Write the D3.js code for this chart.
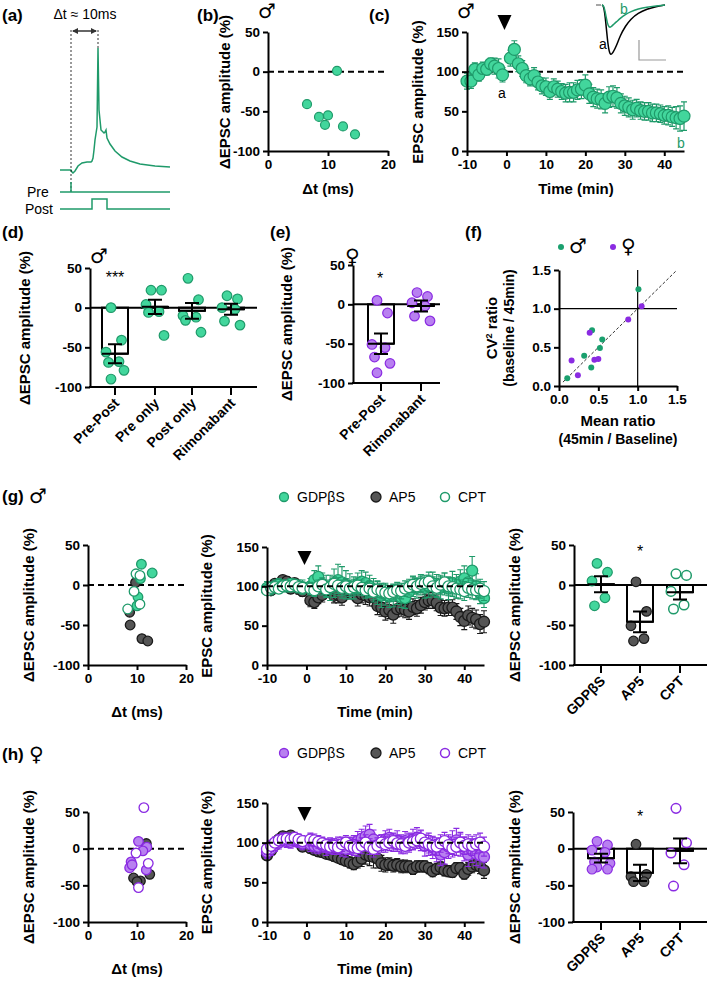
<!DOCTYPE html>
<html><head><meta charset="utf-8">
<script src="https://cdn.jsdelivr.net/npm/d3@7"></script>
<style>body{margin:0;background:#fff}svg{display:block}text{font-family:"Liberation Sans",Arial,sans-serif}</style>
</head><body><svg id="c" width="709" height="983"></svg>
<script>
// ---------- DATA ----------
const aTraceT=[0,11,12,13,15,18,22,27,31,32,33,34,35,37,38,39,41,44,45,46,47,50,55,62,70,80,95,110];
const aTraceV=[0,0,-2,-3,-1,4,7,8,8,9,12,20,30,43,122,60,40,37,38,40,32,26,19,13,9,6,4,3];
const bDt=[6.5,8.5,10,9.5,12.5,14.5,11.5];
const bVal=[-41,-57,-55,-67,-69,-79,1];
const times=[-10,-9,-8,-7,-6,-5,-4,-3,-2,-1,1,2,3,4,5,6,7,8,9,10,11,12,13,14,15,16,17,18,19,20,21,22,23,24,25,26,27,28,29,30,31,32,33,34,35,36,37,38,39,40,41,42,43,44,45];
const cMean=[88,88,103,96,104,103,110,107,104,96,117,128,110,104,95,91,95,87,82,81,75,81,78,75,73,74,74,77,78,83,72,68,66,65,60,68,69,67,60,57,55,52,54,51,50,50,48,48,47,45,45,43,42,41,44];
const cErr=[10,9,8,8,8,7,7,10,12,9,10,11,10,10,9,9,10,10,10,11,10,10,10,10,11,12,12,12,12,13,12,12,12,12,12,13,13,13,12,12,12,12,11,11,11,11,11,11,11,11,12,12,14,16,18];
const insetT=[0,1,2,3,4,5,6,8,10,13,16,20,25,30,35];
const insetA=[0,2,30,70,95,100,96,82,62,42,28,16,8,3,0];
const insetB=[0,1,18,38,45,44,40,34,27,19,13,8,4,2,0];
const dCats=["Pre-Post","Pre only","Post only","Rimonabant"];
const dMean=[-58,1,-4,-2];
const dSem=[12,9,10,7];
const dPts=[[0,-41,-56,-68,-69,-79,-90],[22,22,4,-5,-6,-35],[37,10,-10,-12,-16,-31],[15,11,0,-2,-17,-22]];
const eCats=["Pre-Post","Rimonabant"];
const eMean=[-50,-2];
const eSem=[13,7];
const ePts=[[5,-11,-51,-55,-67,-75,-87],[15,10,2,-2,-15,-21]];
const fMaleX=[0.105,0.32,0.41,0.42,0.52,0.55,1.01];
const fMaleY=[0.10,0.39,0.24,0.72,0.49,0.60,1.25];
const fFemX=[0.16,0.24,0.39,0.45,0.50,0.88,1.05];
const fFemY=[0.33,0.14,0.69,0.34,0.35,0.86,1.03];
const groups=["GDPβS","AP5","CPT"];
const gDtGDP=[10.9,13.1,10.2,10.0,10.7],gValGDP=[26,15,-15,-26,8];
const gDtAP5=[8.5,8.6,11.0,12.2,9.7],gValAP5=[-34,-50,-67,-70,3];
const gDtCPT=[9.8,10.6,9.4,10.6,8.1],gValCPT=[14,12,-8,-24,-30];
const gGrey=[96,95,103,100,108,106,97,104,97,94,82,80,86,89,95,96,88,89,86,96,94,93,85,90,88,86,86,75,73,68,70,64,71,72,70,68,74,72,76,80,82,82,79,73,72,73,73,68,61,56,63,60,58,52,55];
const gGreyErr=[6,6,5,5,5,6,6,6,7,7,8,8,8,9,9,9,9,10,10,10,10,10,10,11,11,11,11,11,11,11,11,11,10,10,10,10,10,10,10,10,10,10,10,10,10,10,10,10,11,11,12,12,12,12,14];
const gGreen=[98,97,100,102,101,100,103,101,100,99,100,108,112,103,100,98,104,108,105,102,100,98,103,106,104,100,95,92,88,90,87,88,90,86,85,93,100,98,102,98,100,104,101,98,103,97,104,100,106,110,105,120,100,92,85];
const gGreenErr=[8,8,8,8,7,7,7,8,8,9,10,12,14,14,14,16,18,20,20,18,16,14,14,14,14,14,15,15,15,14,14,14,13,13,13,13,13,13,13,13,14,14,14,14,14,14,15,15,15,16,16,18,16,14,12];
const gOpen=[95,98,99,97,100,101,100,102,99,98,97,95,100,102,96,99,103,101,98,100,97,99,101,98,95,97,93,96,94,92,91,93,95,94,97,99,102,100,103,104,106,100,98,102,105,100,99,97,96,94,98,96,95,97,94];
const gOpenErr=[6,6,6,6,6,6,6,6,7,7,8,8,8,9,9,9,9,10,10,10,10,10,10,10,10,10,10,10,10,10,10,10,10,10,10,10,10,10,10,10,12,12,12,12,12,12,12,12,12,12,12,12,12,12,12];
const hDtGDP=[10.3,8.8,8.5,12.0,11.2,11.9,9.0],hValGDP=[10,-18,-26,2,-3,-29,-22];
const hDtAP5=[11.9,9.3,10.7,10.0,12.6],hValAP5=[7,-40,-44,-45,-35];
const hDtCPT=[9.8,10.3,12.3,11.4],hValCPT=[-6,-53,-20,56];
const hGrey=[84,90,97,104,108,106,109,105,103,95,93,91,89,88,86,85,83,81,79,77,75,73,76,80,85,83,82,80,74,72,73,71,72,70,70,70,67,70,70,70,68,64,67,69,65,64,63,68,68,61,67,70,72,70,65];
const hGreyErr=[5,5,5,5,5,5,5,5,5,5,6,6,6,6,6,6,6,6,6,6,7,7,8,10,12,12,14,12,10,9,8,8,8,8,8,7,7,7,7,7,7,7,7,7,7,7,7,7,7,7,8,8,8,9,10];
const hPurp=[88,92,97,100,104,102,101,103,102,99,98,96,95,97,94,96,95,97,93,92,96,98,102,105,108,110,104,97,99,104,106,100,103,98,102,100,104,106,103,96,98,94,90,85,88,95,100,103,98,92,85,90,86,84,82];
const hPurpErr=[8,8,8,8,8,8,8,8,8,8,9,9,9,9,10,10,10,10,10,10,11,11,12,12,13,13,12,12,11,11,11,11,12,12,12,12,13,13,13,13,14,14,14,14,15,15,15,15,15,15,15,15,15,15,14];
const hOpen=[92,96,100,103,104,105,104,106,104,102,104,103,101,99,97,95,96,94,98,100,96,94,93,96,100,95,92,96,100,98,100,102,99,98,96,100,101,103,105,100,98,96,95,99,102,97,93,95,100,96,98,96,98,100,95];
const hOpenErr=[7,7,7,7,7,7,7,7,7,7,8,8,8,8,8,9,9,9,9,9,10,10,10,10,10,10,10,10,10,10,10,10,10,10,10,10,10,10,10,10,11,11,11,11,11,11,11,11,11,11,12,12,12,12,12];
const gBarMean=[1,-46,-9],gBarSem=[10,13,9];
const gBarPts=[[27,16,5,-16,-26],[4,-33,-51,-67,-70],[14,12,-8,-25,-30]];
const hBarMean=[-13,-33,-3],hBarSem=[6,11,17];
const hBarPts=[[10,5,-2,-5,-18,-20,-25,-28,-28],[6,-35,-38,-45,-45],[55,8,-6,-22,-51]];
const yTicksD=[-100,-50,0,50], yTicksE=[0,50,100,150];

// ---------- STYLE ----------
const GF="#42d69c",GS="#1f9a6a",PF="#b880f0",PS="#8a2be2",KF="#555",KS="#1a1a1a";
const TICK=13.5, TITLE=15, SYM="DejaVu Sans, sans-serif";
const intFmt=d=>String(d), decFmt=d=>d.toFixed(1);
const svg=d3.select("#c");
svg.append("rect").attr("width",709).attr("height",983).attr("fill","#fff");
function txt(x,y,s,o={}){const t=svg.append("text").attr("x",x).attr("y",y).text(s)
 .attr("font-size",o.size||TICK).attr("font-weight",o.bold===false?"normal":"bold").attr("fill",o.fill||"#000")
 .attr("text-anchor",o.anchor||"start");if(o.font)t.style("font-family",o.font);if(o.rot!=null)t.attr("transform",`rotate(${o.rot},${x},${y})`);return t;}
function sym(x,y,s){return txt(x,y,s,{size:20,bold:false,font:SYM});}
function styleAxis(g){g.selectAll("path,line").attr("stroke","#000").attr("stroke-width",2);
 g.selectAll("text").attr("font-size",TICK).attr("font-weight","bold").attr("fill","#000").attr("font-family","Liberation Sans, Arial");}
function yAx(y,x,ticks,fmt){const g=svg.append("g").attr("transform",`translate(${x},0)`)
 .call(d3.axisLeft(y).tickValues(ticks).tickSize(5).tickSizeOuter(0).tickFormat(fmt||intFmt));styleAxis(g);return g;}
function xAx(x,y,ticks,fmt){const g=svg.append("g").attr("transform",`translate(0,${y})`)
 .call(d3.axisBottom(x).tickValues(ticks).tickSize(5).tickSizeOuter(0).tickFormat(fmt||intFmt));styleAxis(g);return g;}
function hline(x1,x2,y,dash,w){svg.append("line").attr("x1",x1).attr("x2",x2).attr("y1",y).attr("y2",y)
 .attr("stroke","#000").attr("stroke-width",w||2).attr("stroke-dasharray",dash||null);}
function dot(x,y,r,fill,stroke,sw){svg.append("circle").attr("cx",x).attr("cy",y).attr("r",r).attr("fill",fill).attr("stroke",stroke).attr("stroke-width",sw||1.2);}
function ylab(x,y,s){txt(x,y,s,{size:TITLE,anchor:"middle",rot:-90});}

// ---------- (a) ----------
const ax=d3.scaleLinear().domain([0,110]).range([60,170]), ay=d3.scaleLinear().domain([0,122]).range([170,48]);
svg.append("path").attr("d",d3.line().x((d,i)=>ax(d)).y((d,i)=>ay(aTraceV[i]))(aTraceT)).attr("fill","none").attr("stroke",GS).attr("stroke-width",1.5);
[[71,30,192],[98,30,48]].forEach(d=>svg.append("line").attr("x1",d[0]).attr("x2",d[0]).attr("y1",d[1]).attr("y2",d[2]).attr("stroke","#000").attr("stroke-width",0.8).attr("stroke-dasharray","2,2"));
svg.append("line").attr("x1",73).attr("x2",96).attr("y1",31).attr("y2",31).attr("stroke","#333").attr("stroke-width",1.5);
svg.append("path").attr("d","M72,31 l6,-3 v6z M97,31 l-6,-3 v6z").attr("fill","#333");
txt(85,19,"Δt ≈ 10ms",{size:14,bold:false,anchor:"middle"});
svg.append("path").attr("d","M60,192 H170 M71,192 V182 M60,209 H92 V199 H107 V209 H170").attr("fill","none").attr("stroke",GS).attr("stroke-width",1.5);
txt(27,197,"Pre",{size:14,bold:false});txt(25,214,"Post",{size:14,bold:false});
txt(2,21,"(a)",{size:17});

// ---------- (b) ----------
{const x=d3.scaleLinear().domain([0,20]).range([268,388]),y=d3.scaleLinear().domain([-100,50]).range([151,32]);
hline(268,388,y(0),"6,4");
bDt.forEach((d,i)=>dot(x(d),y(bVal[i]),4.5,GF,GS));
yAx(y,268,yTicksD);xAx(x,151,[0,10,20]);
ylab(230,92,"ΔEPSC amplitude (%)");txt(328,194,"Δt (ms)",{size:TITLE,anchor:"middle"});
txt(197,21,"(b)",{size:17});sym(258,18,"♂");}

// ---------- (c) ----------
{const x=d3.scaleLinear().domain([-10,45]).range([467,684]),y=d3.scaleLinear().domain([0,150]).range([151,32]);
hline(467,685,y(100),"6,4");
times.forEach((t,i)=>{svg.append("path").attr("d",`M${x(t)},${y(cMean[i]-cErr[i])}V${y(cMean[i]+cErr[i])}M${x(t)-3},${y(cMean[i]+cErr[i])}h6M${x(t)-3},${y(cMean[i]-cErr[i])}h6`).attr("stroke",GS).attr("stroke-width",1.2).attr("fill","none");});
times.forEach((t,i)=>dot(x(t),y(cMean[i]),6,GF,GS));
yAx(y,467,yTicksE);xAx(x,151,[-10,0,10,20,30,40]);
svg.append("path").attr("d",`M${x(-0.5)-7},15h14l-7,15z`).attr("fill","#000");
ylab(423,92,"EPSC amplitude (%)");txt(576,194,"Time (min)",{size:TITLE,anchor:"middle"});
txt(498,98,"a",{size:14,bold:false});txt(677,148,"b",{size:14,bold:false,fill:GS});
txt(369,21,"(c)",{size:17});sym(457,18,"♂");
const ix=d3.scaleLinear().domain([0,35]).range([602,665]),iy=d3.scaleLinear().domain([0,100]).range([5,55]);
svg.append("line").attr("x1",596).attr("x2",601).attr("y1",5).attr("y2",5).attr("stroke","#888").attr("stroke-width",1.5);
svg.append("path").attr("d",d3.line().x(d=>ix(d)).y((d,i)=>iy(insetA[i])).curve(d3.curveBasis)(insetT)).attr("fill","none").attr("stroke","#000").attr("stroke-width",1.5);
svg.append("path").attr("d",d3.line().x(d=>ix(d)).y((d,i)=>iy(insetB[i])).curve(d3.curveBasis)(insetT)).attr("fill","none").attr("stroke",GS).attr("stroke-width",1.5);
txt(599,49,"a",{size:14,bold:false});txt(620,14,"b",{size:14,bold:false,fill:GS});
svg.append("path").attr("d","M639,40V60H666").attr("fill","none").attr("stroke","#999").attr("stroke-width",1.2);}

// ---------- bar helper ----------
function barPanel(cats,xs,y,axisX,axisEnd,yBase,means,sems,pts,style,barW){
 const x=d3.scaleOrdinal().domain(cats).range(xs);
 cats.forEach((c,i)=>{const cx=x(c);
  svg.append("rect").attr("x",cx-barW/2).attr("width",barW).attr("y",Math.min(y(0),y(means[i]))).attr("height",Math.abs(y(means[i])-y(0)))
   .attr("fill","#fff").attr("stroke","#000").attr("stroke-width",2);});
 hline(axisX,axisEnd,y(0));
 cats.forEach((c,i)=>{const cx=x(c),st=style[i];
  pts[i].forEach((v,j)=>{const off=(j%2===0?-1:1)*(4+(j%3)*2.5);dot(cx+off,y(v),4.8,st[0],st[1],st[2]);});
  const hi=y(means[i]+sems[i]),lo=y(means[i]-sems[i]);
  svg.append("path").attr("d",`M${cx},${lo}V${hi}M${cx-7},${hi}h14M${cx-7},${lo}h14M${cx-barW/2},${y(means[i])}h${barW}`).attr("stroke","#000").attr("stroke-width",2).attr("fill","none");});
 yAx(y,axisX,yTicksD);
 hline(axisX-1,axisEnd,yBase);
 cats.forEach(c=>{svg.append("line").attr("x1",x(c)).attr("x2",x(c)).attr("y1",yBase).attr("y2",yBase+8).attr("stroke","#000").attr("stroke-width",2);
  txt(x(c)+5,yBase+17,c,{size:14,anchor:"end",rot:-45});});
 return x;}

// ---------- (d) ----------
{const y=d3.scaleLinear().domain([-100,50]).range([387,268]);
const G=[GF,GS,1.2];
barPanel(dCats,[115,155,192,231],y,90,257,387,dMean,dSem,dPts,[G,G,G,G],26);
ylab(30,328,"ΔEPSC amplitude (%)");txt(2,238,"(d)",{size:17});sym(90,263,"♂");txt(115,283,"***",{size:16,bold:false,anchor:"middle"});}

// ---------- (e) ----------
{const y=d3.scaleLinear().domain([-100,50]).range([383,265]);
const P=[PF,PS,1.2];
barPanel(eCats,[381,421],y,353,440,383,eMean,eSem,ePts,[P,P],26);
ylab(292,324,"ΔEPSC amplitude (%)");txt(270,238,"(e)",{size:17});sym(345,263,"♀");txt(380,284,"*",{size:16,bold:false,anchor:"middle"});}

// ---------- (f) ----------
{const x=d3.scaleLinear().domain([0,1.5]).range([559,677]),y=d3.scaleLinear().domain([0,1.5]).range([386,270]);
svg.append("line").attr("x1",x(0.05)).attr("y1",y(0.05)).attr("x2",x(1.5)).attr("y2",y(1.5)).attr("stroke","#333").attr("stroke-width",1).attr("stroke-dasharray","3,2");
svg.append("line").attr("x1",x(1)).attr("x2",x(1)).attr("y1",y(0)).attr("y2",y(1.5)).attr("stroke","#000").attr("stroke-width",1.2);
svg.append("line").attr("x1",x(0)).attr("x2",x(1.5)).attr("y1",y(1)).attr("y2",y(1)).attr("stroke","#000").attr("stroke-width",1.2);
fMaleX.forEach((d,i)=>dot(x(d),y(fMaleY[i]),3,"#1aa06e","none"));
fFemX.forEach((d,i)=>dot(x(d),y(fFemY[i]),3,"#8a2be2","none"));
yAx(y,559,[0,0.5,1,1.5],decFmt);xAx(x,386,[0,0.5,1,1.5],decFmt);
dot(561,247,3,"#1aa06e","none");sym(569,253,"♂");dot(613,247,3,"#8a2be2","none");sym(621,253,"♀");
txt(618,426,"Mean ratio",{size:TITLE,anchor:"middle"});txt(618,444,"(45min / Baseline)",{size:14,anchor:"middle"});
svg.append("text").attr("transform","translate(497,328) rotate(-90)").attr("text-anchor","middle").attr("font-size",TITLE).attr("font-weight","bold")
 .html('CV<tspan baseline-shift="super" font-size="9">2</tspan> ratio');
svg.append("text").attr("transform","translate(514,328) rotate(-90)").attr("text-anchor","middle").attr("font-size",14).attr("font-weight","bold").text("(baseline / 45min)");
txt(465,238,"(f)",{size:17});}

// ---------- (g)/(h) helpers ----------
function dtPanel(y0,y1,sets){const x=d3.scaleLinear().domain([0,20]).range([88,186]),y=d3.scaleLinear().domain([-100,50]).range([y1,y0]);
 hline(88,186,y(0),"6,4");
 sets.forEach(s=>s.dt.forEach((d,i)=>dot(x(d),y(s.v[i]),4.8,s.f,s.s,1.3)));
 yAx(y,88,yTicksD);xAx(x,y1,[0,10,20]);
 ylab(34,(y0+y1)/2,"ΔEPSC amplitude (%)");txt(137,y1+52,"Δt (ms)",{size:TITLE,anchor:"middle"});}
function tcPanel(y0,y1,sets){const x=d3.scaleLinear().domain([-10,45]).range([267,484]),y=d3.scaleLinear().domain([0,150]).range([y1,y0]);
 sets.forEach(s=>{times.forEach((t,i)=>{const m=s.m[i],e=s.e[i];svg.append("path").attr("d",`M${x(t)},${y(m-e)}V${y(m+e)}M${x(t)-3},${y(m+e)}h6M${x(t)-3},${y(m-e)}h6`).attr("stroke",s.s).attr("stroke-width",1.1).attr("fill","none");});
  times.forEach((t,i)=>dot(x(t),y(s.m[i]),5.5,s.f,s.s,1.3));});
 hline(267,485,y(100),"6,4");
 yAx(y,267,yTicksE);xAx(x,y1,[-10,0,10,20,30,40]);
 svg.append("path").attr("d",`M${x(-0.5)-7},${y0+4}h14l-7,14z`).attr("fill","#000");
 ylab(212,(y0+y1)/2,"EPSC amplitude (%)");txt(375,y1+52,"Time (min)",{size:TITLE,anchor:"middle"});}
function legend(y,f,s){dot(284,y,4.5,f,s,1.3);txt(297,y+5,"GDPβS",{size:14,bold:false});dot(376,y,5,KF,KS,1.3);txt(389,y+5,"AP5",{size:14,bold:false});dot(445,y,4.5,"#fff",s,1.5);txt(458,y+5,"CPT",{size:14,bold:false});}

// ---------- (g) ----------
txt(2,502,"(g)",{size:17});sym(29,503,"♂");
legend(497,GF,GS);
dtPanel(545,665,[{dt:gDtAP5,v:gValAP5,f:KF,s:KS},{dt:gDtGDP,v:gValGDP,f:GF,s:GS},{dt:gDtCPT,v:gValCPT,f:"#fff",s:GS}]);
tcPanel(547,665,[{m:gGrey,e:gGreyErr,f:KF,s:KS},{m:gGreen,e:gGreenErr,f:GF,s:GS},{m:gOpen,e:gOpenErr,f:"#fff",s:GS}]);
{const y=d3.scaleLinear().domain([-100,50]).range([665,545]);
barPanel(groups,[601,640,680],y,574,707,665,gBarMean,gBarSem,gBarPts,[[GF,GS,1.2],[KF,KS,1.2],["#fff",GS,1.5]],26);
ylab(520,605,"ΔEPSC amplitude (%)");txt(640,557,"*",{size:16,bold:false,anchor:"middle"});}

// ---------- (h) ----------
txt(2,760,"(h)",{size:17});sym(29,761,"♀");
legend(753,PF,PS);
dtPanel(812,922,[{dt:hDtAP5,v:hValAP5,f:KF,s:KS},{dt:hDtGDP,v:hValGDP,f:PF,s:PS},{dt:hDtCPT,v:hValCPT,f:"#fff",s:PS}]);
tcPanel(803,922,[{m:hGrey,e:hGreyErr,f:KF,s:KS},{m:hPurp,e:hPurpErr,f:PF,s:PS},{m:hOpen,e:hOpenErr,f:"#fff",s:PS}]);
{const y=d3.scaleLinear().domain([-100,50]).range([922,812]);
barPanel(groups,[601,640,680],y,573,707,922,hBarMean,hBarSem,hBarPts,[[PF,PS,1.2],[KF,KS,1.2],["#fff",PS,1.5]],26);
ylab(520,867,"ΔEPSC amplitude (%)");txt(640,822,"*",{size:16,bold:false,anchor:"middle"});}
</script></body></html>
